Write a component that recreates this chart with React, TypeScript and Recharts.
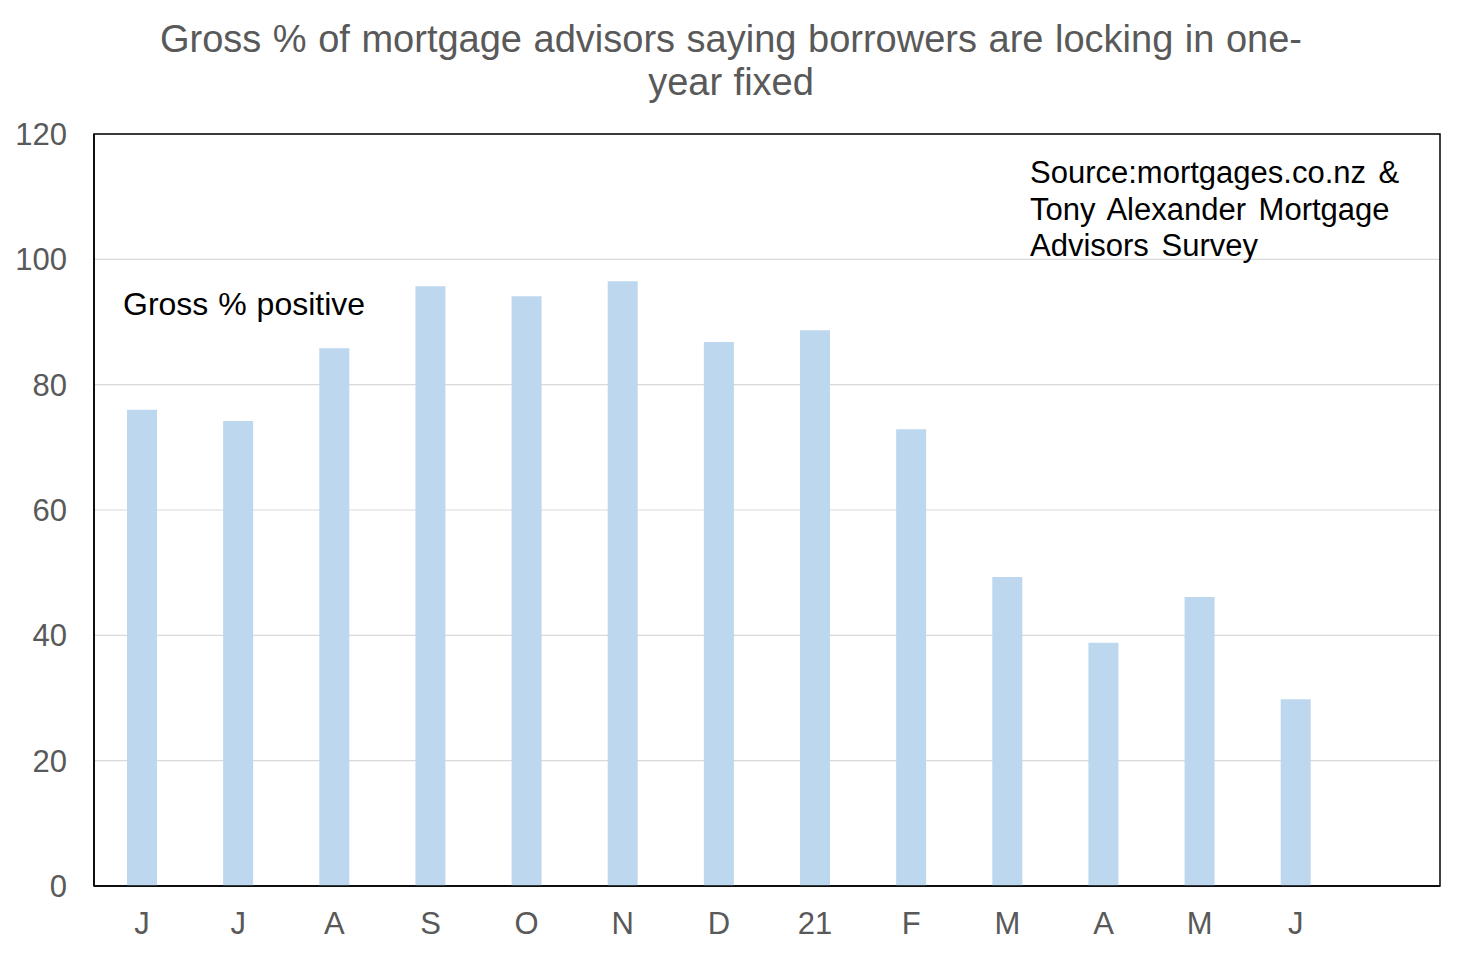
import { BarChart, Bar, XAxis, YAxis, CartesianGrid, ReferenceArea } from 'recharts';

// survey months, Jun 2020 .. Jun 2021 (last slot left empty)
const months = ['J', 'J', 'A', 'S', 'O', 'N', 'D', '21', 'F', 'M', 'A', 'M', 'J', ''];
const grossPositive = [76, 74.2, 85.8, 95.7, 94.1, 96.5, 86.8, 88.7, 72.9, 49.3, 38.8, 46.1, 29.8, null];
const yTicks = [0, 20, 40, 60, 80, 100, 120];

const data = months.map((m, i) => ({ month: m, value: grossPositive[i] }));

const FONT = '"Liberation Sans", Arial, sans-serif';
const AXIS_GREY = '#595959';

export default function App() {
  return (
    <div style={{ position: 'absolute', left: 0, top: 0, width: 1462, height: 954, background: '#fff' }}>
      <BarChart
        width={1462}
        height={954}
        data={data}
        margin={{ top: 134, right: 22, bottom: 0, left: 0 }}
        barSize={30}
      >
        <CartesianGrid vertical={false} stroke="#D9D9D9" strokeWidth={1.2} />
        <XAxis
          dataKey="month"
          height={68}
          tickLine={false}
          tickSize={0}
          tickMargin={26}
          axisLine={{ stroke: '#000', strokeWidth: 1.5 }}
          tick={{ fill: AXIS_GREY, fontSize: 31, fontFamily: FONT }}
          interval={0}
        />
        <YAxis
          domain={[0, 120]}
          ticks={yTicks}
          width={94}
          tickLine={false}
          tickSize={0}
          tickMargin={27}
          axisLine={{ stroke: '#000', strokeWidth: 1.5 }}
          tick={{ fill: AXIS_GREY, fontSize: 31, fontFamily: FONT }}
        />
        <ReferenceArea y1={0} y2={120} fill="none" stroke="#000" strokeWidth={1.5} />
        <Bar dataKey="value" fill="#BDD7EE" isAnimationActive={false} />
      </BarChart>
      <svg
        width={1462}
        height={954}
        style={{ position: 'absolute', left: 0, top: 0, pointerEvents: 'none' }}
      >
        <g fontFamily={FONT}>
          <text x={731} y={52} textAnchor="middle" fontSize={38} wordSpacing={1} fill={AXIS_GREY}>
            Gross % of mortgage advisors saying borrowers are locking in one-
          </text>
          <text x={731} y={95} textAnchor="middle" fontSize={38} wordSpacing={1} fill={AXIS_GREY}>
            year fixed
          </text>
          <text x={123} y={315} fontSize={32} wordSpacing={1} fill="#000">
            Gross % positive
          </text>
          <text x={1030} y={183} fontSize={31} wordSpacing={4} fill="#000">
            Source:mortgages.co.nz &amp;
          </text>
          <text x={1030} y={220} fontSize={31} wordSpacing={4} fill="#000">
            Tony Alexander Mortgage
          </text>
          <text x={1030} y={256} fontSize={31} wordSpacing={4} fill="#000">
            Advisors Survey
          </text>
        </g>
      </svg>
    </div>
  );
}
